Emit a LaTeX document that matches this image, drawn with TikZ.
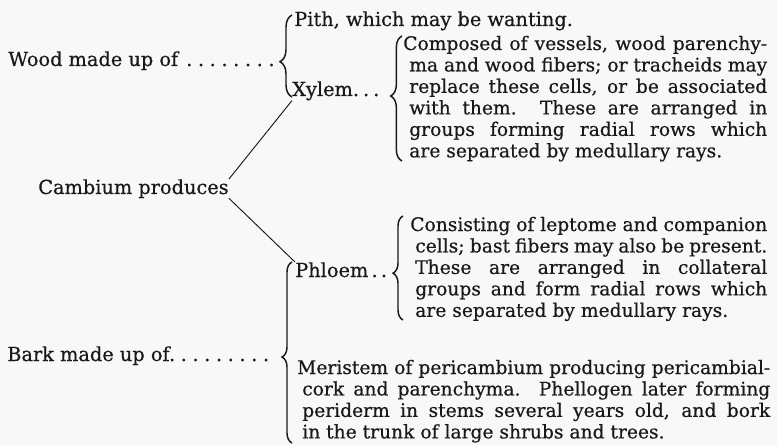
\documentclass[tikz,border=0pt]{standalone}
\usepackage{fontspec}
\setmainfont{DejaVu Serif}[FakeBold=0.5]
\usepackage{xcolor}
\usepackage{tikz}
\usetikzlibrary{decorations.pathreplacing}

\definecolor{paper}{RGB}{248,248,248}
\definecolor{ink}{RGB}{25,25,25}
\newcommand{\ldot}{\kern4.2pt.}

\begin{document}
\begin{tikzpicture}[
        x=0.75pt, y=-0.75pt,
        every node/.style={inner sep=0pt, text=ink, font=\fontsize{14}{16.1}\selectfont},
        term/.style={anchor=base west, font=\fontsize{14.5}{16.1}\selectfont},
        note/.style={anchor=base west, text width=#1, align=justify},
        curly/.style={draw=ink, line width=1.1pt, decorate, decoration={brace, amplitude=#1}},
        link/.style={draw=ink, line width=0.7pt}
    ]
    \fill[paper] (0,0) rectangle (777,445);
    \useasboundingbox (0,0) rectangle (777,445);

    % Nodes
    \node (wood) [term] at (8,66) {Wood made up of\kern6pt.\ldot\ldot\ldot\ldot\ldot\ldot\ldot};
    \node (pith) [term] at (294,26) {Pith, which may be wanting.};
    \node (xylem) [term] at (292,96) {Xylem.\kern3pt.\kern3pt.};
    \node (xylemtext) [note=268.5pt] at (409,50) {\hspace*{-4.5pt}Composed of vessels, wood parenchy-\linebreak
        ma and wood fibers; or tracheids may\linebreak
        replace these cells, or be associated\linebreak
        with them.\ \ These are arranged in\linebreak
        groups forming radial rows which\linebreak
        are separated by medullary rays.};
    \node (cambium) [term] at (38,194) {Cambium produces};
    \node (phloem) [term] at (295,277) {Phloem\,.\,.};
    \node (phloemtext) [note=264pt] at (415,231) {\hspace*{-3.75pt}Consisting of leptome and companion\linebreak
        cells; bast fibers may also be present.\linebreak
        These are arranged in collateral\linebreak
        groups and form radial rows which\linebreak
        are separated by medullary rays.};
    \node (bark) [term] at (7,361) {Bark made up of.\ldot\ldot\ldot\ldot\ldot\ldot\ldot\ldot};
    \node (barktext) [note=351pt] at (302,374) {\hspace*{-3.75pt}Meristem of pericambium producing pericambial-\linebreak
        cork and parenchyma.\ \ Phellogen later forming\linebreak
        periderm in stems several years old, and bork\linebreak
        in the trunk of large shrubs and trees.};

    % Braces
    \draw [curly=9pt, decoration={aspect=0.43}] (292,97) -- (292,15);
    \draw [curly=8.5pt, decoration={aspect=0.52}] (402,161) -- (402,36);
    \draw [curly=7.5pt, decoration={aspect=0.45}] (403,320) -- (403,216);
    \draw [curly=7.5pt, decoration={aspect=0.475}] (292,443) -- (292,262);

    % Lines
    \draw [link] (cambium.north east) -- (xylem.south west);
    \draw [link] (cambium.south east) -- (phloem.north west);

\end{tikzpicture}
\end{document}
